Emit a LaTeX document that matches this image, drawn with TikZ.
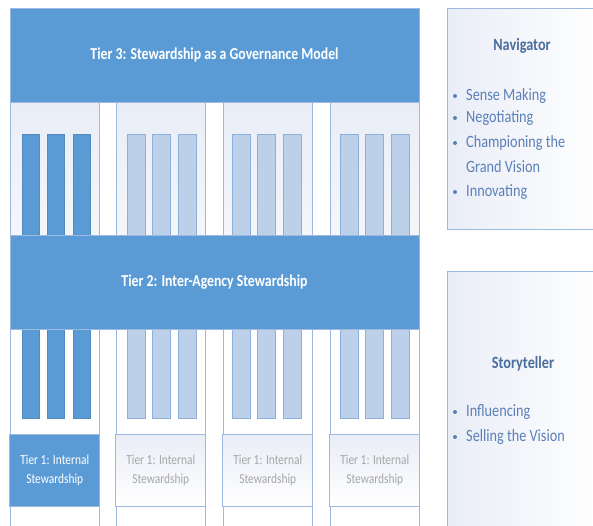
\documentclass[tikz,border=0pt]{standalone}
\usepackage{fontspec}
\usepackage{graphicx}
\setmainfont{Carlito}
\newcommand{\vstr}[1]{\scalebox{0.95}[1.15]{#1}}
\definecolor{mainblue}{HTML}{5B9BD5}
\definecolor{barfill}{HTML}{BCD0EA}
\definecolor{barline}{HTML}{8EAFD9}
\definecolor{colline}{HTML}{9DB9E0}
\definecolor{colfill}{HTML}{E9EDF6}
\definecolor{paneltext}{HTML}{5B80B8}
\definecolor{paneltitle}{HTML}{4A6E9E}
\definecolor{graytext}{HTML}{A6A6A6}
\tikzset{
  tierbox/.style={draw=colline, line width=0.6pt, fill=mainblue, inner sep=0pt, text=white, font=\bfseries\fontsize{14.5}{16}\selectfont},
  colrect/.style={draw=colline, line width=0.7pt},
  uppercol/.style={colrect, top color=colfill, bottom color=colfill!50!white},
  darkbar/.style={fill=mainblue, draw=mainblue!90!black, line width=0.3pt, inner sep=0pt, minimum width=17pt, minimum height=101pt},
  lightbar/.style={fill=barfill, draw=barline, line width=0.5pt, inner sep=0pt, minimum width=18pt, minimum height=101pt},
  darkbarlow/.style={darkbar, minimum height=89pt},
  lightbarlow/.style={lightbar, minimum height=89pt},
  tieronebox/.style={draw=colline, line width=0.7pt, inner sep=0pt, minimum width=90pt, minimum height=72pt, align=center, font=\fontsize{12}{19}\selectfont},
  panel/.style={draw=colline, line width=0.9pt, left color=colfill, right color=white},
  ptitle/.style={text=paneltitle, font=\bfseries\fontsize{15}{16}\selectfont},
  pitem/.style={text=paneltext, anchor=west, inner sep=0pt, font=\fontsize{15}{16}\selectfont},
  pbullet/.style={circle, fill=paneltext, inner sep=0pt, minimum size=4pt},
}
\begin{document}
\begin{tikzpicture}[x=1pt,y=-1pt]
\useasboundingbox (0,0) rectangle (593,525);
\fill[white] (0,0) rectangle (593,525);
% columns
\foreach \x in {10,116,223,330}{
  \draw[uppercol] (\x,102) rectangle ++(89.5,133);
  \draw[colrect, fill=white] (\x,329) rectangle ++(89.5,200);
}
% tier 3
\node[tierbox, minimum width=409pt, minimum height=94pt] (tier3) at (214.5,55) {\vstr{Tier 3: Stewardship as a Governance Model}};
% bars upper
\node[darkbar] (b11) at (30.5,184.5) {};
\node[darkbar] (b12) at (56,184.5) {};
\node[darkbar] (b13) at (82,184.5) {};
\foreach \c/\x in {2/136,3/241,4/349}{
  \node[lightbar] (b\c1) at (\x,184.5) {};
  \node[lightbar] (b\c2) at (\x+25.5,184.5) {};
  \node[lightbar] (b\c3) at (\x+51.5,184.5) {};
}
% bars lower
\node[darkbarlow] (c11) at (30.5,373.5) {};
\node[darkbarlow] (c12) at (56,373.5) {};
\node[darkbarlow] (c13) at (82,373.5) {};
\foreach \c/\x in {2/136,3/241,4/349}{
  \node[lightbarlow] (c\c1) at (\x,373.5) {};
  \node[lightbarlow] (c\c2) at (\x+25.5,373.5) {};
  \node[lightbarlow] (c\c3) at (\x+51.5,373.5) {};
}
% tier 2
\node[tierbox, minimum width=409pt, minimum height=94pt] (tier2) at (214.5,282) {\vstr{Tier 2: Inter-Agency Stewardship}};
% tier 1
\node[tieronebox, fill=mainblue, text=white] (t1a) at (54.75,470) {\vstr{Tier 1: Internal}\\\vstr{Stewardship}};
\node[tieronebox, top color=colfill, bottom color=white, text=graytext] (t1b) at (160.75,470) {\vstr{Tier 1: Internal}\\\vstr{Stewardship}};
\node[tieronebox, top color=colfill, bottom color=white, text=graytext] (t1c) at (267.75,470) {\vstr{Tier 1: Internal}\\\vstr{Stewardship}};
\node[tieronebox, top color=colfill, bottom color=white, text=graytext] (t1d) at (374.75,470) {\vstr{Tier 1: Internal}\\\vstr{Stewardship}};
% right panels
\draw[panel] (447,8) rectangle (600,229);
\draw[panel] (447,271) rectangle (600,530);
\node[ptitle] (nav) at (522,46) {\vstr{Navigator}};
\node[pbullet] (nb1) at (455,96) {};
\node[pitem] (n1) at (466,96) {\vstr{Sense Making}};
\node[pbullet] (nb2) at (455,118) {};
\node[pitem] (n2) at (466,118) {\vstr{Negotiating}};
\node[pbullet] (nb3) at (455,143) {};
\node[pitem] (n3) at (466,143) {\vstr{Championing the}};
\node[pitem] (n4) at (466,167) {\vstr{Grand Vision}};
\node[pbullet] (nb5) at (455,192) {};
\node[pitem] (n5) at (466,192) {\vstr{Innovating}};
\node[ptitle] (story) at (523,364) {\vstr{Storyteller}};
\node[pbullet] (sb1) at (455,412) {};
\node[pitem] (s1) at (466,412) {\vstr{Influencing}};
\node[pbullet] (sb2) at (455,437) {};
\node[pitem] (s2) at (466,437) {\vstr{Selling the Vision}};
\end{tikzpicture}
\end{document}
